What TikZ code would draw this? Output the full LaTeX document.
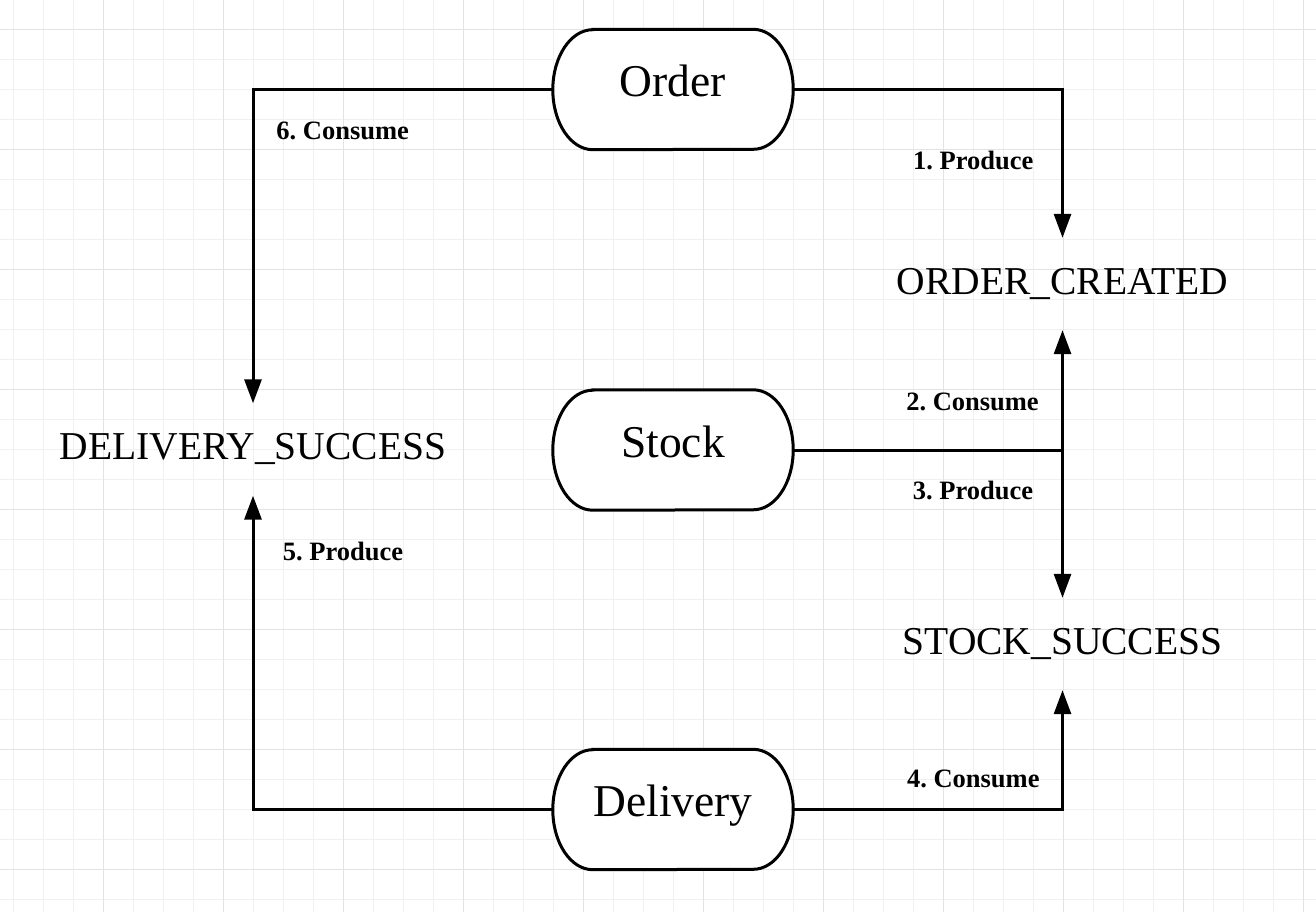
\documentclass[tikz,border=0pt]{standalone}
\usepackage{fontspec}
\setmainfont{Liberation Serif}
\frenchspacing
\usetikzlibrary{arrows.meta}
\tikzset{
  conn/.style={line width=3pt, black},
  arr/.style={conn, -{Triangle[length=24pt,width=17pt]}},
  termtext/.style={minimum width=240pt, minimum height=120pt, inner sep=0pt,
    font=\fontsize{45.5}{50}\selectfont, text height=30pt, text depth=16pt},
  topic/.style={inner sep=0pt, minimum height=92pt,
    font=\fontsize{39.5}{44}\selectfont, text height=26pt, text depth=6pt},
  lbl/.style={inner sep=0pt, anchor=base, font=\bfseries\fontsize{26.5}{29}\selectfont},
  minorgrid/.style={draw=black!6, line width=1pt},
  majorgrid/.style={draw=black!11, line width=1pt},
  termbox/.style={line width=3pt, draw=black, fill=white}
}
\newcommand\termshape[1]{%
  \path[termbox] ([xshift=40pt]#1.north west) -- ([xshift=-40pt]#1.north east)
    arc[start angle=90, end angle=-90, x radius=40pt, y radius=60pt]
    -- ([xshift=40pt]#1.south west)
    arc[start angle=270, end angle=90, x radius=40pt, y radius=60pt] -- cycle;}
\begin{document}
\begin{tikzpicture}[x=1pt, y=-1pt]
\useasboundingbox (0,0) rectangle (1316,912);
\fill[white] (0,0) rectangle (1316,912);
% grid
\foreach \i in {0,...,43} {
  \pgfmathsetmacro\gx{13.3+30*\i}
  \draw[minorgrid] (\gx,0) -- (\gx,912);
}
\foreach \i in {-1,...,30} {
  \pgfmathsetmacro\gy{29.3+30*\i}
  \draw[minorgrid] (0,\gy) -- (1316,\gy);
}
\foreach \i in {-1,...,10} {
  \pgfmathsetmacro\gx{103.3+120*\i}
  \draw[majorgrid] (\gx,0) -- (\gx,912);
}
\foreach \i in {0,...,7} {
  \pgfmathsetmacro\gy{29.3+120*\i}
  \draw[majorgrid] (0,\gy) -- (1316,\gy);
}
% topic texts
\node[topic] (oc) at (1062.5,284) {ORDER\_CREATED};
\node[topic] (ss) at (1062.5,644) {STOCK\_SUCCESS};
\node[topic] (ds) at (253,449.5) {DELIVERY\_SUCCESS};
% service nodes (text holders)
\node[termtext] (order) at (673,89.5) {};
\node[termtext] (stock) at (673,450) {};
\node[termtext] (delivery) at (673,809.5) {};
% connectors
\draw[arr] (order.east) -| (oc.north);
\coordinate (j) at (oc.south |- stock.east);
\draw[conn] (stock.east) -- (j);
\draw[arr] (j) -- (oc.south);
\draw[arr] (j) -- (ss.north);
\draw[arr] (delivery.east) -| (ss.south);
\draw[arr] (delivery.west) -| (ds.south);
\draw[arr] (order.west) -| (ds.north);
% shapes
\termshape{order}
\termshape{stock}
\termshape{delivery}
\node[termtext] at (order) {Order};
\node[termtext] at (stock) {Stock};
\node[termtext] at (delivery) {Delivery};
% labels
\node[lbl] (l1) at (973.3,170) {1. Produce};
\node[lbl] (l2) at (972.5,410) {2. Consume};
\node[lbl] (l3) at (973,499.7) {3. Produce};
\node[lbl] (l4) at (973.3,787.3) {4. Consume};
\node[lbl] (l5) at (343,560) {5. Produce};
\node[lbl] (l6) at (342.7,140) {6. Consume};
\end{tikzpicture}
\end{document}
